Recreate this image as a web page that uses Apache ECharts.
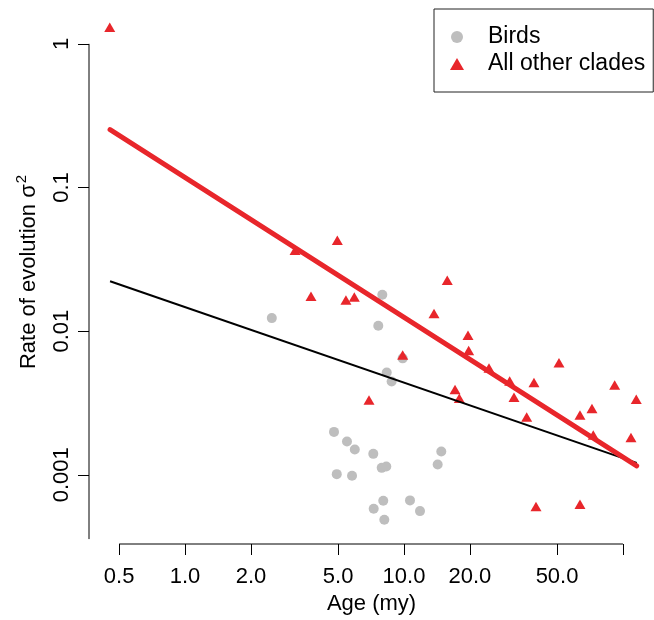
<!DOCTYPE html>
<html><head><meta charset="utf-8">
<script src="https://cdn.jsdelivr.net/npm/echarts@6/dist/echarts.min.js"></script>
<style>html,body{margin:0;padding:0;background:#fff}#c{width:654px;height:620px}</style>
</head><body><div id="c"></div>
<script>
// ---- data ----
const birdsAge  = [7.96, 2.49, 7.63, 9.86, 8.34, 8.78, 4.79, 5.49, 5.96, 7.24, 7.91, 8.30, 4.93, 5.79, 14.80, 14.25, 8.04, 7.27, 10.65, 11.83, 8.13];
const birdsRate = [0.01793, 0.01233, 0.01092, 0.00647, 0.00515, 0.00446, 0.00199, 0.001707, 0.001501, 0.00140, 0.001118, 0.001144, 0.001011, 0.000984, 0.001454, 0.001181, 0.00066, 0.00058, 0.000664, 0.000559, 0.000487];
const otherAge  = [0.453, 3.18, 4.96, 3.76, 5.43, 5.93, 15.76, 13.71, 9.86, 6.92, 19.60, 19.74, 24.44, 51.03, 30.38, 39.23, 91.65, 17.10, 17.89, 31.79, 115.0, 72.18, 63.63, 36.33, 73.18, 108.8, 40.07, 63.63];
const otherRate = [1.306, 0.0366, 0.04295, 0.01753, 0.01645, 0.01726, 0.02265, 0.01329, 0.00682, 0.00332, 0.00935, 0.00735, 0.00554, 0.00604, 0.00450, 0.00439, 0.00422, 0.00392, 0.00341, 0.00347, 0.003357, 0.00289, 0.00261, 0.00253, 0.00189, 0.00182, 0.000603, 0.000623];
const birdsFitAge  = [0.4545, 115.5];
const birdsFitRate = [0.02225, 0.001212];
const otherFitAge  = [0.4545, 115.5];
const otherFitRate = [0.2526, 0.001155];
const xTicks = [0.5, 1, 2, 5, 10, 20, 50, 100];
const xTickLabels = ['0.5', '1.0', '2.0', '5.0', '10.0', '20.0', '50.0'];
const yTicks = [0.001, 0.01, 0.1, 1];
const yTickLabels = ['0.001', '0.01', '0.1', '1'];

// ---- axis extents ----
const xMin = 0.3642, xMax = 138.6, yMin = 0.00033, yMax = 2.02;
const yLineBottom = 0.000357;

const lg = v => Math.log10(v);
const FONT = '"Liberation Sans", Arial, Helvetica, sans-serif';
const RED = '#e8262b', GRAY = '#bebebe';
const pts = (xs, ys) => xs.map((x, i) => [lg(x), lg(ys[i])]);
const fmt = (ticks, labels) => v => {
  for (let i = 0; i < labels.length; i++) if (Math.abs(lg(ticks[i]) - v) < 1e-6) return labels[i];
  return '';
};

const chart = echarts.init(document.getElementById('c'), null, {renderer: 'canvas'});
chart.setOption({
  animation: false,
  grid: {left: 89, right: 0, top: 0, bottom: 75},
  xAxis: {
    type: 'value', min: lg(xMin), max: lg(xMax),
    splitLine: {show: false}, axisLine: {show: false, onZero: false},
    axisTick: {show: true, length: 11, customValues: xTicks.map(lg), lineStyle: {color: '#000', width: 1}},
    axisLabel: {customValues: xTicks.slice(0, xTickLabels.length).map(lg), formatter: fmt(xTicks, xTickLabels),
      margin: 22, fontSize: 22, color: '#000', fontFamily: FONT},
    name: 'Age (my)', nameLocation: 'middle', nameGap: 49,
    nameTextStyle: {fontSize: 22, color: '#000', fontFamily: FONT}
  },
  yAxis: {
    type: 'value', min: lg(yMin), max: lg(yMax),
    splitLine: {show: false}, axisLine: {show: false, onZero: false},
    axisTick: {show: true, length: 11, customValues: yTicks.map(lg), lineStyle: {color: '#000', width: 1}},
    axisLabel: {customValues: yTicks.map(lg), formatter: fmt(yTicks, yTickLabels), rotate: 90,
      margin: 16, fontSize: 22, color: '#000', fontFamily: FONT},
    name: '{a|Rate of evolution σ}{s|2}', nameLocation: 'middle', nameGap: 45, nameRotate: 90,
    nameTextStyle: {fontSize: 22, color: '#000', fontFamily: FONT,
      rich: {a: {fontSize: 22, color: '#000', fontFamily: FONT},
             s: {fontSize: 15, color: '#000', fontFamily: FONT, padding: [0, 0, 15, 1]}}}
  },
  legend: {
    orient: 'vertical', left: 434, top: 9,
    padding: [16, 8, 16, 16], itemWidth: 14, itemHeight: 12, itemGap: 3,
    borderColor: '#222', borderWidth: 1, backgroundColor: '#fff',
    textStyle: {fontSize: 23, color: '#000', fontFamily: FONT, lineHeight: 24, padding: [0, 0, 0, 19]},
    data: [{name: 'Birds', icon: 'circle'}, {name: 'All other clades', icon: 'triangle'}]
  },
  series: [
    {type: 'line', silent: true, clip: false, symbol: 'none', lineStyle: {color: '#000', width: 1},
      data: [[lg(xTicks[0]), lg(yMin)], [lg(xTicks[xTicks.length - 1]), lg(yMin)]]},
    {type: 'line', silent: true, clip: false, symbol: 'none', lineStyle: {color: '#000', width: 1},
      data: [[lg(xMin), lg(yTicks[yTicks.length - 1])], [lg(xMin), lg(yLineBottom)]]},
    {name: 'Birds', type: 'scatter', symbol: 'circle', symbolSize: 10, itemStyle: {color: GRAY, opacity: 1},
      data: pts(birdsAge, birdsRate)},
    {name: 'All other clades', type: 'scatter', symbol: 'triangle', symbolSize: [11, 9.5], itemStyle: {color: RED, opacity: 1},
      data: pts(otherAge, otherRate)},
    {type: 'line', silent: true, symbol: 'none', lineStyle: {color: '#000', width: 2},
      data: pts(birdsFitAge, birdsFitRate)},
    {type: 'line', silent: true, symbol: 'none', lineStyle: {color: RED, width: 5, cap: 'round'},
      data: pts(otherFitAge, otherFitRate)}
  ]
});
</script>
</body></html>
